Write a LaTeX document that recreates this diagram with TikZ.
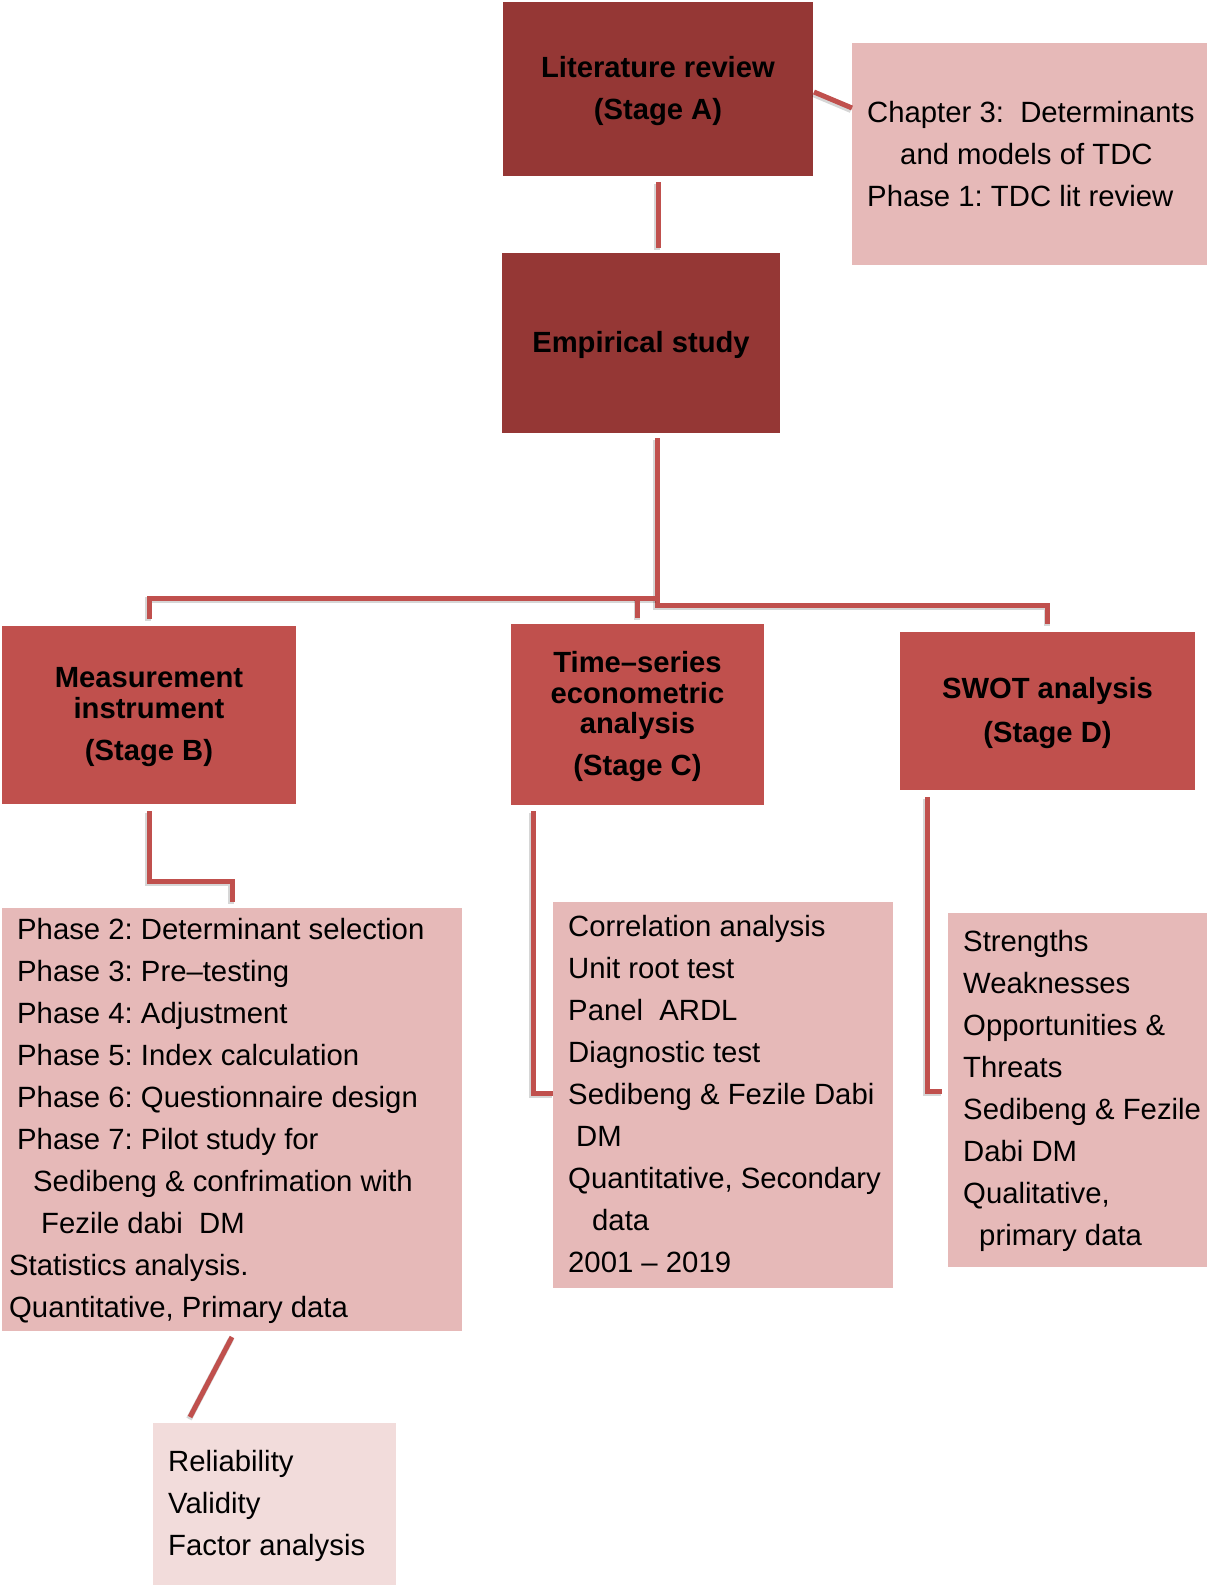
\documentclass[tikz,border=0pt]{standalone}
\usepackage{fontspec}
\setmainfont{Liberation Sans}
\usetikzlibrary{calc}
\frenchspacing
\definecolor{stagedark}{RGB}{149,55,53}
\definecolor{stagemid}{RGB}{192,80,77}
\definecolor{notepink}{RGB}{230,185,184}
\definecolor{notelight}{RGB}{242,220,219}
\newcommand{\topstrut}{\rule{0pt}{25pt}}
\begin{document}
\begin{tikzpicture}[x=1pt,y=-1pt,
  box/.style={anchor=north west, inner sep=0pt, outer sep=0pt},
  stagefont/.style={font=\fontsize{29.2}{30.5}\selectfont\bfseries},
  darkbox/.style={box, fill=stagedark, align=center, stagefont},
  midbox/.style={box, fill=stagemid, align=center, stagefont},
  notebox/.style={box, fill=notepink},
  softbox/.style={box, fill=notelight},
  listtext/.style={anchor=west, inner sep=0pt, align=left, font=\fontsize{29.3}{42}\selectfont},
  conn/.style={draw=stagemid, line width=5pt,
    preaction={draw=black, opacity=0.16, line width=6pt,
      transform canvas={shift={(-1pt,-2pt)}}}},
]
\fill[white] (0,0) rectangle (1207,1585);
\useasboundingbox (0,0) rectangle (1207,1585);

% top level
\node[darkbox, minimum width=310pt, minimum height=174pt] (lit) at (503,2)
  {\topstrut Literature review\\[11.5pt](Stage A)};
\node[notebox, minimum width=355pt, minimum height=222pt] (chap) at (852,43) {};
\node[listtext] (chapT) at ($(chap.west)+(15,0)$)
  {Chapter 3: \ Determinants\\
   \hspace*{33pt}and models of TDC\\
   Phase 1: TDC lit review};
\node[darkbox, minimum width=278pt, minimum height=180pt] (emp) at (502,253)
  {\topstrut Empirical study};

% stages
\node[midbox, minimum width=294pt, minimum height=178pt] (meas) at (2,626)
  {\topstrut Measurement\\instrument\\[12pt](Stage B)};
\node[midbox, minimum width=253pt, minimum height=181pt] (ts) at (511,624)
  {\topstrut Time–series\\econometric\\analysis\\[11pt](Stage C)};
\node[midbox, minimum width=295pt, minimum height=158pt] (swot) at (900,632)
  {\topstrut SWOT analysis\\[13pt](Stage D)};

% details
\node[notebox, minimum width=460pt, minimum height=423pt] (phase) at (2,908) {};
\node[listtext] (phaseT) at ($(phase.west)+(7,1)$)
  {\hspace*{8pt}Phase 2: Determinant selection\\
   \hspace*{8pt}Phase 3: Pre–testing\\
   \hspace*{8pt}Phase 4: Adjustment\\
   \hspace*{8pt}Phase 5: Index calculation\\
   \hspace*{8pt}Phase 6: Questionnaire design\\
   \hspace*{8pt}Phase 7: Pilot study for\\
   \hspace*{24pt}Sedibeng \& confrimation with\\
   \hspace*{32pt}Fezile dabi \ DM\\
   Statistics analysis.\\
   Quantitative, Primary data};

\node[notebox, minimum width=340pt, minimum height=386pt] (corr) at (553,902) {};
\node[listtext] (corrT) at ($(corr.west)+(15,-1)$)
  {Correlation analysis\\
   Unit root test\\
   Panel \ ARDL\\
   Diagnostic test\\
   Sedibeng \& Fezile Dabi\\
   \hspace*{8pt}DM\\
   Quantitative, Secondary\\
   \hspace*{24pt}data\\
   2001 – 2019};

\node[notebox, minimum width=259pt, minimum height=354pt] (swotl) at (948,913) {};
\node[listtext] (swotlT) at ($(swotl.west)+(15,1)$)
  {Strengths\\
   Weaknesses\\
   Opportunities \&\\
   Threats\\
   Sedibeng \& Fezile\\
   Dabi DM\\
   Qualitative,\\
   \hspace*{16pt}primary data};

\node[softbox, minimum width=243pt, minimum height=162pt] (rel) at (153,1423) {};
\node[listtext] (relT) at ($(rel.west)+(15,2)$)
  {Reliability\\
   Validity\\
   Factor analysis};

% connectors
\coordinate (hubR) at (657,605);
\coordinate (hubL) at (657,598);
\coordinate (mpBend) at (232,881);

\draw[conn] ($(lit.east)+(1,3)$) -- ($(chap.north west)+(0,65)$);
\draw[conn] ($(lit.south)+(0,6)$) -- ($(lit.south |- emp.north)+(0,-5)$);
\draw[conn] ($(hubR |- emp.south)+(0,5)$) -- (hubR) -| ($(swot.north)+(0,-8)$);
\draw[conn] (hubL) -| ($(meas.north)+(0,-7)$);
\draw[conn] (hubL -| ts.north) -- ($(ts.north)+(0,-6)$);
\draw[conn] ($(meas.south)+(0,7)$) |- (mpBend) -- ($(mpBend |- phase.north)+(0,-6)$);
\draw[conn] ($(ts.south west)+(22,6)$) |- ($(corr.north west)+(0,191)$);
\draw[conn] ($(swot.south west)+(27,7)$) |- ($(swotl.north west)+(-6,178)$);
\draw[conn] ($(phase.south west)+(230,6)$) -- ($(rel.north west)+(37,-6)$);
\end{tikzpicture}
\end{document}
